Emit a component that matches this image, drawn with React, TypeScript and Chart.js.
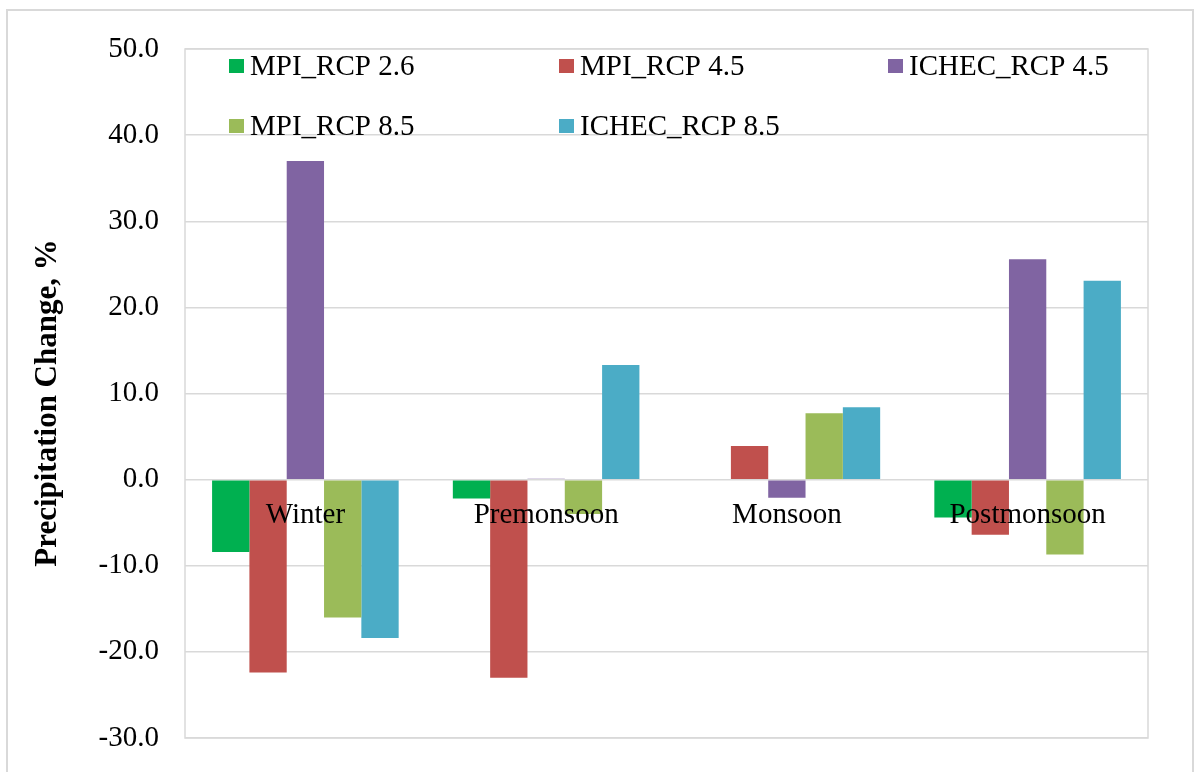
import React, { useEffect, useRef } from "react";
import { Chart, registerables } from "chart.js";

Chart.register(...registerables);

const categories = ["Winter", "Premonsoon", "Monsoon", "Postmonsoon"];
const seriesNames = ["MPI_RCP 2.6", "MPI_RCP 4.5", "ICHEC_RCP 4.5", "MPI_RCP 8.5", "ICHEC_RCP 8.5"];
const mpi26 = [-8.4, -2.2, -0.1, -4.4];
const mpi45 = [-22.4, -23.0, 3.9, -6.4];
const ichec45 = [37.0, 0.1, -2.1, 25.6];
const mpi85 = [-16.0, -4.0, 7.7, -8.7];
const ichec85 = [-18.4, 13.3, 8.4, 23.1];
const seriesColors = ["#00B050", "#C0504D", "#8064A2", "#9BBB59", "#4BACC6"];
const yMin = -30;
const yMax = 50;
const yStep = 10;
const yTitle = "Precipitation Change, %";

const FONT = '"Liberation Serif", "Times New Roman", serif';

export default function App() {
  const ref = useRef<HTMLCanvasElement | null>(null);

  useEffect(() => {
    document.body.style.margin = "0";
    const canvas = ref.current;
    if (!canvas) return;
    const values = [mpi26, mpi45, ichec45, mpi85, ichec85];

    const decor = {
      id: "decor",
      beforeDraw(chart: any) {
        const ctx = chart.ctx;
        ctx.save();
        ctx.fillStyle = "#ffffff";
        ctx.fillRect(0, 0, chart.width, chart.height);
        ctx.strokeStyle = "#d9d9d9";
        ctx.lineWidth = 2;
        ctx.strokeRect(7, 10, 1186, 800);
        ctx.restore();
      },
      afterDatasetsDraw(chart: any) {
        const ctx = chart.ctx;
        const a = chart.chartArea;
        ctx.save();
        // plot border
        ctx.strokeStyle = "#d9d9d9";
        ctx.lineWidth = 1.5;
        ctx.strokeRect(a.left, a.top, a.right - a.left, a.bottom - a.top);
        // category labels near zero line
        const y0 = chart.scales.y.getPixelForValue(0);
        ctx.fillStyle = "#000";
        ctx.font = `29px ${FONT}`;
        ctx.textAlign = "center";
        ctx.textBaseline = "alphabetic";
        categories.forEach((c, i) => {
          const x = chart.scales.x.getPixelForValue(i);
          ctx.fillText(c, x, y0 + 43);
        });
        // legend
        const cols = [229, 559, 888];
        const rows = [66, 126];
        ctx.textAlign = "left";
        ctx.textBaseline = "middle";
        seriesNames.forEach((n, i) => {
          const cx = cols[i % 3];
          const cy = rows[Math.floor(i / 3)];
          ctx.fillStyle = seriesColors[i];
          ctx.fillRect(cx, cy - 7, 15, 14);
          ctx.fillStyle = "#000";
          ctx.fillText(n, cx + 21, cy + 1);
        });
        // y title
        ctx.save();
        ctx.translate(48, 403);
        ctx.rotate(-Math.PI / 2);
        ctx.font = `bold 31px ${FONT}`;
        ctx.textAlign = "center";
        ctx.textBaseline = "middle";
        ctx.fillText(yTitle, 0, 0);
        ctx.restore();
        ctx.restore();
      },
    };

    const chart = new Chart(canvas, {
      type: "bar",
      data: {
        labels: categories,
        datasets: seriesNames.map((n, i) => ({
          label: n,
          data: values[i],
          backgroundColor: seriesColors[i],
          borderWidth: 0,
          barPercentage: 1,
          categoryPercentage: 0.775,
        })),
      },
      options: {
        animation: false,
        responsive: false,
        maintainAspectRatio: false,
        devicePixelRatio: 1,
        layout: { padding: { left: 0, right: 46, top: 49, bottom: 34 } },
        plugins: { legend: { display: false }, tooltip: { enabled: false } },
        scales: {
          x: { display: false },
          y: {
            min: yMin,
            max: yMax,
            afterFit(scale: any) {
              scale.width = 185;
              scale.paddingTop = 0;
              scale.paddingBottom = 0;
            },
            ticks: {
              stepSize: yStep,
              padding: 26,
              color: "#000",
              font: { family: FONT, size: 29 },
              callback: (v: any) => Number(v).toFixed(1),
            },
            grid: { color: "#d9d9d9", lineWidth: 1.5, drawTicks: false },
            border: { display: false },
          },
        },
      },
      plugins: [decor],
    });
    return () => chart.destroy();
  }, []);

  return (
    <div style={{ width: 1194, height: 772 }}>
      <canvas ref={ref} width={1194} height={772} style={{ display: "block" }} />
    </div>
  );
}
